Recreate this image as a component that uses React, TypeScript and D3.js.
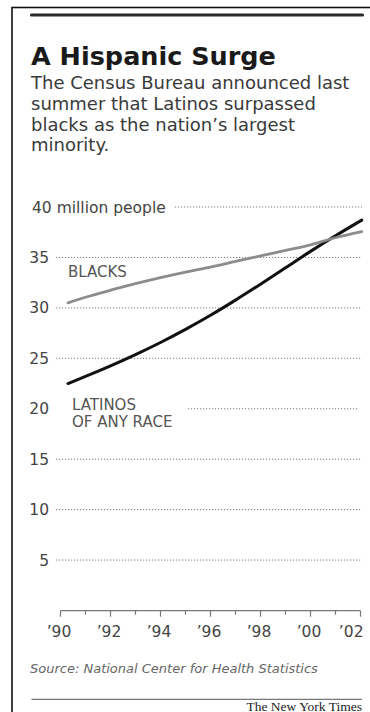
import React from "react";
import * as d3 from "d3";

const years = [1990.3, 1991, 1992, 1993, 1994, 1995, 1996, 1997, 1998, 1999, 2000, 2001, 2002.05];
const blacks = [30.5, 31.05, 31.75, 32.4, 33.0, 33.55, 34.05, 34.6, 35.15, 35.7, 36.25, 36.95, 37.55];
const latinos = [22.5, 23.2, 24.25, 25.37, 26.57, 27.87, 29.27, 30.77, 32.35, 33.97, 35.6, 37.15, 38.7];
const yTicks = [5, 10, 15, 20, 25, 30, 35, 40];
const xTickYears = [1990, 1991, 1992, 1993, 1994, 1995, 1996, 1997, 1998, 1999, 2000, 2001, 2002];
const xTickLabels = ["’90", "’92", "’94", "’96", "’98", "’00", "’02"];
const title = "A Hispanic Surge";
const subtitle = [
  "The Census Bureau announced last",
  "summer that Latinos surpassed",
  "blacks as the nation’s largest",
  "minority.",
];
const source = "Source: National Center for Health Statistics";
const credit = "The New York Times";

const FONT = "'DejaVu Sans', sans-serif";

export default function App() {
  const x = d3.scaleLinear().domain([1990, 2002]).range([60.5, 360.5]);
  const y = d3.scaleLinear().domain([0, 40]).range([610.5, 207]);
  const line = d3
    .line<number>()
    .x((_, i) => x(years[i]))
    .y((d) => y(d))
    .curve(d3.curveMonotoneX);

  const gridStart = (v: number) => (v === 40 ? 175 : v === 20 ? 188 : 56);
  const gridEnd = (v: number) => (v === 20 ? 358 : 362);

  return (
    <svg
      width={370}
      height={712}
      style={{ position: "absolute", left: 0, top: 0, background: "#fff" }}
    >
      {/* frame */}
      <rect x={12} y={7.5} width={400} height={720} fill="#fff" stroke="#111" strokeWidth={1.6} />
      <line x1={31.5} x2={362.5} y1={15} y2={15} stroke="#2a2a2a" strokeWidth={3.2} strokeLinecap="round" />

      <text x={31} y={64.5} fontFamily={FONT} fontWeight="bold" fontSize={25.5} fill="#1a1a1a">
        {title}
      </text>
      {subtitle.map((s, i) => (
        <text key={i} x={31} y={89 + i * 20.8} fontFamily={FONT} fontSize={18} fill="#3a3a3a">
          {s}
        </text>
      ))}

      {/* gridlines */}
      {yTicks.map((v) => (
        <line
          key={v}
          x1={gridStart(v)}
          x2={gridEnd(v)}
          y1={y(v)}
          y2={y(v)}
          stroke="#7a7a7a"
          strokeWidth={1}
          strokeDasharray="1.2,1.8"
        />
      ))}
      {yTicks.map((v) =>
        v === 40 ? (
          <text key={v} x={32} y={y(v) + 5.5} fontFamily={FONT} fontSize={15.5} fill="#444">
            40 million people
          </text>
        ) : (
          <text key={v} x={49} y={y(v) + 5.5} textAnchor="end" fontFamily={FONT} fontSize={15.5} fill="#444">
            {v}
          </text>
        )
      )}

      {/* x axis */}
      <line x1={x(1990)} x2={x(2002)} y1={610.7} y2={610.7} stroke="#777" strokeWidth={1.2} />
      {xTickYears.map((yr) => (
        <line
          key={yr}
          x1={x(yr)}
          x2={x(yr)}
          y1={610.7}
          y2={yr % 2 === 0 ? 616.7 : 614.7}
          stroke="#777"
          strokeWidth={1.2}
        />
      ))}
      {xTickLabels.map((l, i) => {
        const yr = 1990 + i * 2;
        const last = i === xTickLabels.length - 1;
        return (
          <text
            key={l}
            x={last ? 363.5 : x(yr) - 1.5}
            y={636.7}
            textAnchor={last ? "end" : "middle"}
            fontFamily={FONT}
            fontSize={15.5}
            fill="#444"
          >
            {l}
          </text>
        );
      })}

      {/* series */}
      <path d={line(latinos) || ""} fill="none" stroke="#111" strokeWidth={3} strokeLinecap="round" />
      <path d={line(blacks) || ""} fill="none" stroke="#8c8c8c" strokeWidth={2.8} strokeLinecap="round" />

      <text x={68} y={277.3} fontFamily={FONT} fontSize={15} fill="#555">BLACKS</text>
      <text x={72} y={410} fontFamily={FONT} fontSize={15} fill="#555">LATINOS</text>
      <text x={72} y={427.3} fontFamily={FONT} fontSize={15} fill="#555">OF ANY RACE</text>

      <text x={30} y={673.3} fontFamily={FONT} fontStyle="italic" fontSize={13} fill="#666">
        {source}
      </text>
      <line x1={31.5} x2={362} y1={699.3} y2={699.3} stroke="#777" strokeWidth={1.3} />
      <text
        x={362}
        y={710.5}
        textAnchor="end"
        fontFamily="'Liberation Serif', serif"
        fontSize={13.5}
        fill="#222"
      >
        {credit}
      </text>
    </svg>
  );
}
